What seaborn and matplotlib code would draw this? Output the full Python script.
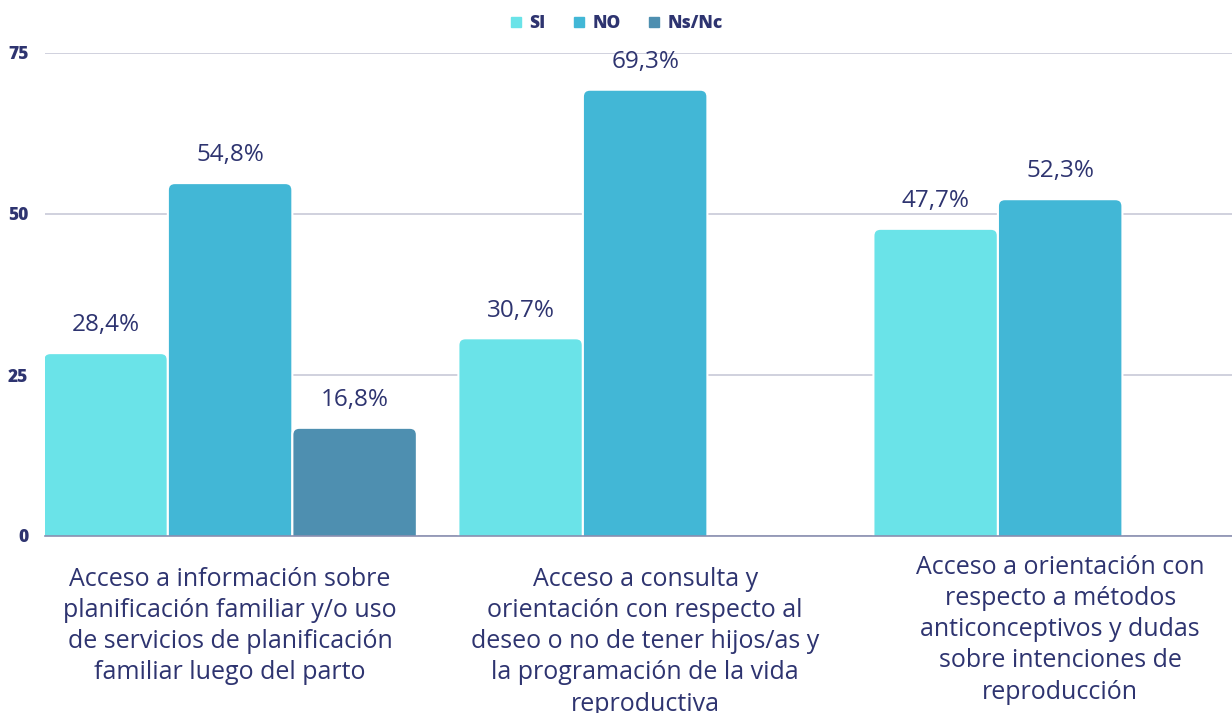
import numpy as np
import pandas as pd
import matplotlib
matplotlib.use("Agg")
import matplotlib.pyplot as plt
import seaborn as sns
from matplotlib.lines import Line2D
from matplotlib.patches import FancyBboxPatch
from matplotlib.transforms import ScaledTranslation

categories = [
    "Acceso a información sobre\nplanificación familiar y/o uso\nde servicios de planificación\nfamiliar luego del parto",
    "Acceso a consulta y\norientación con respecto al\ndeseo o no de tener hijos/as y\nla programación de la vida\nreproductiva",
    "Acceso a orientación con\nrespecto a métodos\nanticonceptivos y dudas\nsobre intenciones de\nreproducción",
]
series = ["SI", "NO", "Ns/Nc"]
si_values = [28.4, 30.7, 47.7]
no_values = [54.8, 69.3, 52.3]
nsnc_values = [16.8, np.nan, np.nan]
y_ticks = [0, 25, 50, 75]

colors = ["#6ae3e8", "#42b7d6", "#4e8fb0"]
text_color = "#2e3470"

rows = []
for s, vals in zip(series, [si_values, no_values, nsnc_values]):
    for c, v in zip(categories, vals):
        rows.append({"cat": c, "serie": s, "val": v})
df = pd.DataFrame(rows)

sns.set_style("white")
plt.rcParams["font.family"] = ["Open Sans", "DejaVu Sans"]

fig = plt.figure(figsize=(12.32, 7.13), dpi=100)
ax_w_px, ax_h_px = 1232 - 45, 536 - 53
ax = fig.add_axes([45 / 1232, 1 - 536 / 713, ax_w_px / 1232, ax_h_px / 713])

sns.barplot(data=df, x="cat", y="val", hue="serie", hue_order=series,
            palette=colors, width=0.9, ax=ax, legend=False,
            edgecolor="white", linewidth=1.5, saturation=1)

xlim = (-0.446, 2.414)
ylim = (0, 75)
ax.set_ylim(*ylim)
ax.set_xlim(*xlim)

# rounded top corners
rad_px = 7
rx = rad_px * (xlim[1] - xlim[0]) / ax_w_px
ry = rad_px * (ylim[1] - ylim[0]) / ax_h_px
for cont in ax.containers:
    for bar in cont:
        h = bar.get_height()
        if np.isnan(h) or h == 0:
            continue
        bar.set_visible(False)
        fb = FancyBboxPatch((bar.get_x(), -ry), bar.get_width(), h + ry,
                            boxstyle=f"round,pad=0,rounding_size={rx}",
                            mutation_aspect=ry / rx,
                            facecolor=bar.get_facecolor(), edgecolor="white",
                            linewidth=1.5, zorder=bar.get_zorder())
        ax.add_patch(fb)

ax.set_yticks(y_ticks)
ax.set_yticklabels([str(t) for t in y_ticks], fontsize=12.5, fontweight="heavy", color=text_color)
ax.yaxis.grid(True, color="#c8cad8", linewidth=1.2)
ax.set_axisbelow(True)
for sp in ["top", "right", "left"]:
    ax.spines[sp].set_visible(False)
ax.spines["bottom"].set_color("#8a8fb0")
ax.spines["bottom"].set_linewidth(1.2)
ax.spines["bottom"].set_zorder(5)
ax.tick_params(axis="y", length=0, pad=12)
ax.tick_params(axis="x", length=0, pad=22)
ax.set_xticks(range(len(categories)))
ax.set_xticklabels(categories, fontsize=18, color=text_color, linespacing=1.33, va="top")
ax.set_xlabel("")
ax.set_ylabel("")
lbl = ax.get_xticklabels()[2]
lbl.set_transform(lbl.get_transform() + ScaledTranslation(0, 12 / 100, fig.dpi_scale_trans))

for cont in ax.containers:
    for bar in cont:
        h = bar.get_height()
        if np.isnan(h) or h == 0:
            continue
        ax.annotate(f"{h:.1f}".replace(".", ",") + "%",
                    (bar.get_x() + bar.get_width() / 2, h),
                    xytext=(0, 20), textcoords="offset points",
                    ha="center", va="center", fontsize=17.5, color=text_color)

handles = [Line2D([0], [0], marker="s", linestyle="", markersize=7.5,
                  markerfacecolor=c, markeredgecolor=c) for c in colors]
leg = fig.legend(handles, series, loc="center", bbox_to_anchor=(0.5, 1 - 24 / 713),
                 ncol=3, frameon=False, handlelength=0.8, handletextpad=0.4,
                 columnspacing=1.5, prop={"weight": "heavy", "size": 12.5})
for t in leg.get_texts():
    t.set_color(text_color)

fig.savefig("out.png", dpi=100)
